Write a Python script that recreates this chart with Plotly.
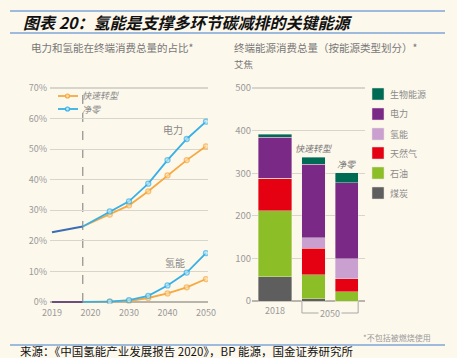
import plotly.graph_objects as go

# ---------------- data ----------------
hist_years = [2010, 2018]
hist_elec = [22.8, 24.7]
hist_h2 = [0.0, 0.0]

scen_years = [2018, 2025, 2030, 2035, 2040, 2045, 2050]
fast_elec = [24.7, 28.6, 31.6, 36.2, 41.4, 46.4, 50.9]
nz_elec = [24.7, 29.6, 32.9, 38.7, 46.4, 53.3, 59.0]
fast_h2 = [0.0, 0.1, 0.3, 1.3, 2.8, 4.8, 7.5]
nz_h2 = [0.0, 0.1, 0.6, 2.0, 5.4, 9.6, 16.0]

line_xticks = [2010, 2020, 2030, 2040, 2050]
line_xticktext = ["2019", "2020", "2030", "2040", "2050"]
pct_ticks = [0, 10, 20, 30, 40, 50, 60, 70]
pct_ticktext = ["0%", "10%", "20%", "30%", "40%", "50%", "60%", "70%"]

bar_groups = ["2018", "快速转型", "净零"]
coal = [57, 5, 0]
oil = [155, 57, 22]
gas = [76, 62, 30]
hydrogen = [0, 24, 47]
electricity = [96, 173, 179]
bio = [7, 16, 23]
ej_ticks = [0, 100, 200, 300, 400, 500]

# ---------------- style / layout ----------------
W, H = 457, 358
BG = "#fdf8ec"
FONT = "Noto Sans CJK SC, Noto Sans, sans-serif"
GRID = "#d8d5cd"
TICKC = "#9a9a9a"
ORANGE = "#f6a940"
BLUE = "#36b0e6"
HISTC = "#3c6db3"
RULE = "#7ea6d8"

col = {
    "生物能源": "#006b55",
    "电力": "#7a2a86",
    "氢能": "#c9a0cf",
    "天然气": "#e50012",
    "石油": "#8cbe27",
    "煤炭": "#5e5e5e",
}

bar_pos = [0, 1, 1.86]
bar_w = [0.88, 0.6, 0.6]


def px(x):
    return x / W


def py(y):
    return 1 - y / H


fig = go.Figure()

# ---------- left chart ----------
fig.add_trace(go.Scatter(x=hist_years, y=hist_elec, mode="lines",
                         line=dict(color=HISTC, width=2), xaxis="x", yaxis="y",
                         showlegend=False, hoverinfo="skip"))
fig.add_trace(go.Scatter(x=hist_years, y=hist_h2, mode="lines",
                         line=dict(color="#6a4f7a", width=2), xaxis="x", yaxis="y",
                         showlegend=False, hoverinfo="skip"))

msize = [0, 5, 5, 5, 5, 5, 5]
for ys, c, fillc in [(fast_h2, ORANGE, "#fcdca8"), (nz_h2, BLUE, "#bde6f7"),
                     (fast_elec, ORANGE, "#fcdca8"), (nz_elec, BLUE, "#bde6f7")]:
    fig.add_trace(go.Scatter(x=scen_years, y=ys, mode="lines+markers",
                             line=dict(color=c, width=1.8),
                             marker=dict(size=msize, color=fillc,
                                         line=dict(color=c, width=1.3)),
                             xaxis="x", yaxis="y", showlegend=False,
                             hoverinfo="skip"))

# ---------- right chart ----------
stack = [("煤炭", coal), ("石油", oil), ("天然气", gas), ("氢能", hydrogen),
         ("电力", electricity), ("生物能源", bio)]
for name, vals in stack:
    fig.add_trace(go.Bar(x=bar_pos, y=vals, width=bar_w, name=name,
                         marker=dict(color=col[name], line=dict(width=0.4, color="#f3eee3")),
                         xaxis="x2", yaxis="y2", showlegend=False,
                         hoverinfo="skip"))

totals = [sum(v) for v in zip(coal, oil, gas, hydrogen, electricity, bio)]

ann = []
shapes = []

for i in (1, 2):
    ann.append(dict(x=bar_pos[i], y=totals[i], xref="x2", yref="y2",
                    text=bar_groups[i], showarrow=False, yanchor="bottom",
                    xanchor="center", yshift=0,
                    font=dict(family=FONT, size=9, color="#777", style="italic")))

ann.append(dict(x=2041.5, y=56.3, xref="x", yref="y", text="电力", showarrow=False,
                xanchor="center", yanchor="middle",
                font=dict(family=FONT, size=10, color="#888")))
ann.append(dict(x=2042, y=12.8, xref="x", yref="y", text="氢能", showarrow=False,
                xanchor="center", yanchor="middle",
                font=dict(family=FONT, size=10, color="#888")))

shapes.append(dict(type="line", xref="x", yref="y", x0=2018, x1=2018, y0=0, y1=70,
                   line=dict(color="#7a7a7a", width=1, dash="dash"), layer="below"))

for yy, c, fillc, txt in [(96, ORANGE, "#fcdca8", "快速转型"), (109, BLUE, "#bde6f7", "净零")]:
    shapes.append(dict(type="line", xref="paper", yref="paper", x0=px(58), x1=px(78),
                       y0=py(yy), y1=py(yy), line=dict(color=c, width=1.8)))
    shapes.append(dict(type="circle", xref="paper", yref="paper", x0=px(65.5), x1=px(69.5),
                       y0=py(yy + 2), y1=py(yy - 2), fillcolor=fillc,
                       line=dict(color=c, width=1.2)))
    ann.append(dict(x=px(80), y=py(yy), xref="paper", yref="paper", text=txt,
                    showarrow=False, xanchor="left", yanchor="middle",
                    font=dict(family=FONT, size=9, color="#888", style="italic")))

leg_items = ["生物能源", "电力", "氢能", "天然气", "石油", "煤炭"]
leg_y = [94, 114, 134, 153, 173, 193]
for name, yy in zip(leg_items, leg_y):
    shapes.append(dict(type="rect", xref="paper", yref="paper", x0=px(372), x1=px(384),
                       y0=py(yy + 6), y1=py(yy - 6), fillcolor=col[name],
                       line=dict(width=0.5, color="#e8e2d5")))
    ann.append(dict(x=px(388), y=py(yy), xref="paper", yref="paper", text=name,
                    showarrow=False, xanchor="left", yanchor="middle",
                    font=dict(family=FONT, size=9, color="#8a8a8a")))

bx0 = bar_pos[1] - bar_w[1] / 2
bx1 = bar_pos[2] + bar_w[2] / 2
shapes.append(dict(type="path", xref="x2", yref="paper",
                   path=f"M {bx0},{py(302)} L {bx0},{py(313)} L {bx1},{py(313)} L {bx1},{py(302)}",
                   line=dict(color="#a8a8a8", width=1)))
ann.append(dict(x=(bx0 + bx1) / 2, y=py(313), xref="x2", yref="paper", text="2050",
                showarrow=False, bgcolor=BG, borderpad=1, xanchor="center", yanchor="middle",
                font=dict(family=FONT, size=9, color=TICKC)))

for yy in (11, 33, 345):
    shapes.append(dict(type="line", xref="paper", yref="paper", x0=px(10), x1=px(445),
                       y0=py(yy), y1=py(yy), line=dict(color=RULE, width=1.5)))
ann.append(dict(x=px(21), y=py(22), xref="paper", yref="paper",
                text="<b><i>图表 20：氢能是支撑多环节碳减排的关键能源</i></b>",
                showarrow=False, xanchor="left", yanchor="middle",
                font=dict(family=FONT, size=16, color="#111")))
ann.append(dict(x=px(29), y=py(47), xref="paper", yref="paper",
                text="电力和氢能在终端消费总量的占比*", showarrow=False,
                xanchor="left", yanchor="middle",
                font=dict(family=FONT, size=10.5, color="#777")))
ann.append(dict(x=px(232), y=py(48), xref="paper", yref="paper",
                text="终端能源消费总量（按能源类型划分）*", showarrow=False,
                xanchor="left", yanchor="middle",
                font=dict(family=FONT, size=10.5, color="#777")))
ann.append(dict(x=px(232), y=py(64), xref="paper", yref="paper",
                text="艾焦", showarrow=False, xanchor="left", yanchor="middle",
                font=dict(family=FONT, size=9.5, color="#777")))
ann.append(dict(x=px(433), y=py(337), xref="paper", yref="paper",
                text="*不包括被燃烧使用", showarrow=False, xanchor="right", yanchor="middle",
                font=dict(family=FONT, size=8, color="#999")))
ann.append(dict(x=px(19), y=py(350.5), xref="paper", yref="paper",
                text="来源：《中国氢能产业发展报告 2020》，BP 能源，国金证券研究所",
                showarrow=False, xanchor="left", yanchor="middle", borderpad=0,
                font=dict(family=FONT, size=11.5, color="#111")))

lx0, lx1 = 2009.5, 2050.5
ly0, ly1 = -0.5, 71
rx0, rx1 = -0.597, 2.338
ry0, ry1 = -2, 510

fig.update_layout(
    width=W, height=H, autosize=False,
    margin=dict(l=0, r=0, t=0, b=0, pad=0, autoexpand=False),
    paper_bgcolor=BG, plot_bgcolor=BG,
    barmode="stack", bargap=0,
    showlegend=False,
    font=dict(family=FONT),
    xaxis=dict(domain=[px(50.1), px(207.9)], range=[lx0, lx1],
               tickvals=line_xticks, ticktext=line_xticktext, automargin=False,
               showgrid=False, zeroline=False, showline=False, ticks="",
               tickfont=dict(size=9, color=TICKC), anchor="y", ticklabelstandoff=2),
    yaxis=dict(domain=[py(303.5), py(84.9)], range=[ly0, ly1],
               tickvals=pct_ticks, ticktext=pct_ticktext, automargin=False,
               gridcolor=GRID, gridwidth=1.2, zeroline=True, zerolinecolor="#b9b5ad",
               zerolinewidth=1.5, showline=False, ticks="",
               tickfont=dict(size=9, color=TICKC), anchor="x", ticklabelstandoff=2),
    xaxis2=dict(domain=[px(252), px(365)], range=[rx0, rx1],
                tickvals=[bar_pos[0]], ticktext=[bar_groups[0]], automargin=False,
                showgrid=False, zeroline=False, showline=False, ticks="",
                tickfont=dict(size=9, color=TICKC), anchor="y2", ticklabelstandoff=2),
    yaxis2=dict(domain=[py(301.85), py(83.7)], range=[ry0, ry1],
                tickvals=ej_ticks, automargin=False,
                gridcolor=GRID, gridwidth=1.2, zeroline=True, zerolinecolor="#b9b5ad",
                zerolinewidth=1.5, showline=False, ticks="",
                tickfont=dict(size=9.5, color=TICKC), anchor="x2"),
    annotations=ann,
    shapes=shapes,
)

fig.write_html("out.html",
               config={"displayModeBar": False, "staticPlot": True},
               post_script="document.body.style.margin='0px';document.body.style.background='" + BG + "';")
